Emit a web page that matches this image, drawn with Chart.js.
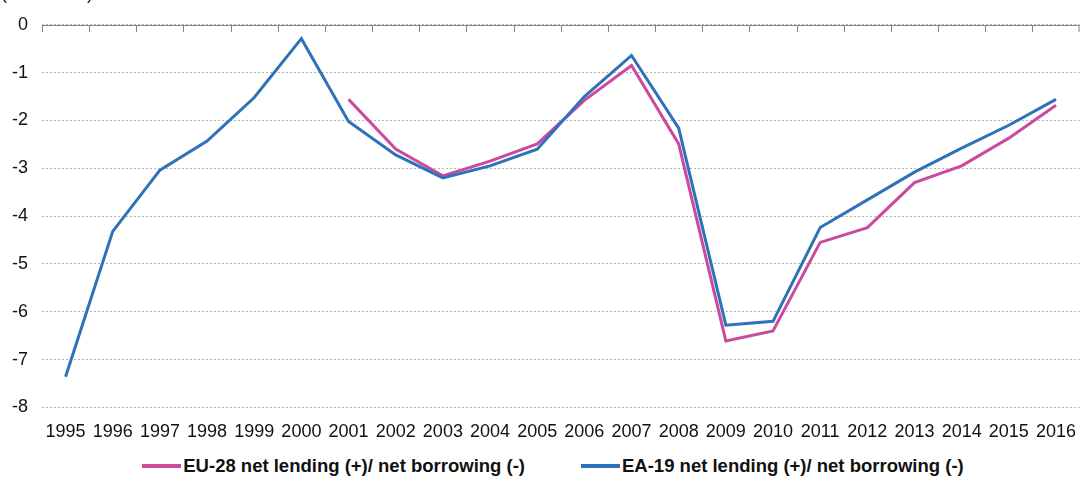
<!DOCTYPE html>
<html>
<head>
<meta charset="utf-8">
<script src="https://cdn.jsdelivr.net/npm/chart.js@4/dist/chart.umd.min.js"></script>
<style>
  html, body { margin: 0; padding: 0; background: #fff; }
  #wrap { position: relative; width: 1082px; height: 478px; overflow: hidden; }
  #canvasBox { width: 1082px; height: 455px; }
  #legend {
    position: absolute; left: 0; top: 455px; width: 1082px;
    display: flex; justify-content: center; padding-left: 24px; box-sizing: border-box;
    font-family: 'Liberation Sans', Arial, sans-serif; font-size: 18.5px; font-weight: bold; color: #111;
  }
  .item { display: flex; align-items: center; margin: 0 28px; line-height: 22px; }
  .swatch { width: 39px; height: 4px; margin-right: 2px; }
</style>
</head>
<body>
<div id="wrap">
  <div id="canvasBox"><canvas id="chart"></canvas></div>
  <div id="legend"></div>
</div>
<script>
const years = ["1995", "1996", "1997", "1998", "1999", "2000", "2001", "2002", "2003", "2004", "2005",
    "2006", "2007", "2008", "2009", "2010", "2011", "2012", "2013", "2014", "2015", "2016"];

// EU-28 starts in 2001
const eu28 = [null, null, null, null, null, null, -1.56, -2.6, -3.16, -2.85, -2.49,
    -1.58, -0.85, -2.49, -6.61, -6.4, -4.55, -4.24, -3.3, -2.95, -2.37, -1.68];

const ea19 = [-7.36, -4.32, -3.04, -2.43, -1.52, -0.29, -2.02, -2.72, -3.2, -2.95, -2.6,
    -1.5, -0.64, -2.16, -6.28, -6.2, -4.24, -3.66, -3.08, -2.58, -2.1, -1.56];

const unitLabel = "(% of GDP)";
const font = "'Liberation Sans', Arial, sans-serif";

// zero line with small tick marks between the years, plus the cut-off unit label
const zeroLine = {
    id: "zeroLine",
    afterDraw(chart) {
        const c = chart.ctx;
        const x = chart.scales.x;
        const y0 = Math.round(chart.scales.y.getPixelForValue(0));
        const step = x.getPixelForValue(1) - x.getPixelForValue(0);
        c.save();
        c.strokeStyle = "#868686";
        c.lineWidth = 1;
        c.beginPath();
        c.moveTo(chart.chartArea.left, y0 + 0.5);
        c.lineTo(chart.chartArea.right, y0 + 0.5);
        for (let i = 0; i <= years.length; i++) {
            let px = Math.round(x.getPixelForValue(i) - step / 2) + 0.5;
            if (px > chart.chartArea.right) px = chart.chartArea.right - 0.5;
            c.moveTo(px, y0);
            c.lineTo(px, y0 + 7);
        }
        c.stroke();
        c.fillStyle = "#222";
        c.font = "18px " + font;
        c.textBaseline = "alphabetic";
        c.fillText(unitLabel, 1, -1);
        c.restore();
    }
};

const chart = new Chart(document.getElementById("chart"), {
    type: "line",
    data: {
        labels: years,
        datasets: [
            {
                label: "EU-28 net lending (+)/ net borrowing (-)",
                data: eu28,
                borderColor: "#cc4a9d",
                backgroundColor: "#cc4a9d",
                borderWidth: 3,
                pointRadius: 0,
                tension: 0,
                order: 1
            },
            {
                label: "EA-19 net lending (+)/ net borrowing (-)",
                data: ea19,
                borderColor: "#2e72b8",
                backgroundColor: "#2e72b8",
                borderWidth: 3,
                pointRadius: 0,
                tension: 0,
                order: 0
            }
        ]
    },
    options: {
        responsive: true,
        maintainAspectRatio: false,
        animation: false,
        layout: { padding: { top: 20, right: 0, left: 0, bottom: 6 } },
        plugins: {
            tooltip: { enabled: false },
            legend: { display: false }
        },
        scales: {
            x: {
                offset: true,
                grid: { display: false },
                border: { display: false },
                ticks: {
                    color: "#111",
                    font: { family: font, size: 18 },
                    maxRotation: 0,
                    autoSkip: false,
                    padding: 6
                }
            },
            y: {
                min: -8,
                max: 0,
                afterFit(scale) { scale.width = 42; },
                grid: { color: "#b5b5b5", drawTicks: false },
                border: { display: false, dash: [2, 2] },
                ticks: {
                    stepSize: 1,
                    color: "#111",
                    padding: 14,
                    font: { family: font, size: 18 }
                }
            }
        }
    },
    plugins: [zeroLine]
});

// legend below the chart, built from the datasets
const legendEl = document.getElementById("legend");
chart.data.datasets.forEach(ds => {
    let item = document.createElement("div");
    item.className = "item";
    item.innerHTML = `<span class="swatch" style="background:${ds.borderColor}"></span><span>${ds.label}</span>`;
    legendEl.appendChild(item);
});
</script>
</body>
</html>
